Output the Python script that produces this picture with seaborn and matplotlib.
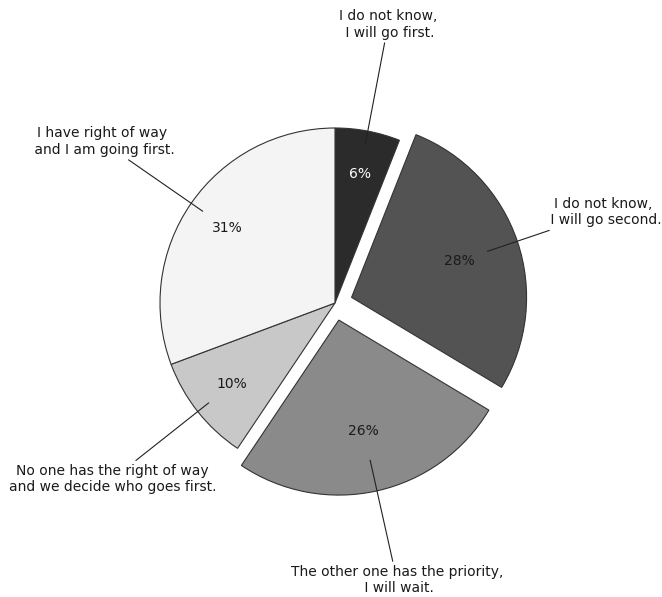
import matplotlib
matplotlib.use("Agg")
import matplotlib.pyplot as plt
import seaborn as sns
import numpy as np

# ---- data ----
answers = [
    "I do not know,\n I will go first.",
    "I do not know,\n I will go second.",
    "The other one has the priority,\n I will wait.",
    "No one has the right of way\nand we decide who goes first.",
    "I have right of way\n and I am going first.",
]
shares = [6.0, 27.6, 25.8, 9.9, 30.7]
explode = [0, 0.1, 0.1, 0, 0]
colors = ["#2b2b2b", "#535353", "#8a8a8a", "#c8c8c8", "#f4f4f4"]
pct_colors = ["white", "#1a1a1a", "#1a1a1a", "#1a1a1a", "#1a1a1a"]

sns.set_theme(style="white")
plt.rcParams["font.family"] = ["DejaVu Sans"]

W, H = 662, 597
fig = plt.figure(figsize=(W / 100, H / 100), dpi=100)
ax = fig.add_axes([0, 0, 1, 1])

palette = sns.color_palette(colors)
wedges, _ = ax.pie(
    shares, explode=explode, colors=palette, startangle=90, counterclock=False,
    radius=1.0, wedgeprops=dict(edgecolor="#333333", linewidth=0.8),
)

for w, lab, pc, val in zip(wedges, answers, pct_colors, shares):
    ang = np.deg2rad((w.theta1 + w.theta2) / 2)
    c, s = np.cos(ang), np.sin(ang)
    ax.text(0.75 * c, 0.75 * s, f"{val:.0f}%", ha="center", va="center",
            fontsize=10, color=pc)
    ax.annotate(lab, xy=(0.92 * c, 0.92 * s), xytext=(1.62 * c, 1.62 * s),
                ha="center", va="center", fontsize=10, color="#1a1a1a",
                arrowprops=dict(arrowstyle="-", color="#222222", lw=0.8,
                                shrinkA=0, shrinkB=0))

# pie centre at pixel (335, 303), radius 175 px
R = 175.0
ax.set_xlim(-335 / R, (W - 335) / R)
ax.set_ylim(-(H - 303) / R, 303 / R)
ax.set_aspect("equal")
ax.axis("off")

fig.savefig("out.png", dpi=100, facecolor="white")
